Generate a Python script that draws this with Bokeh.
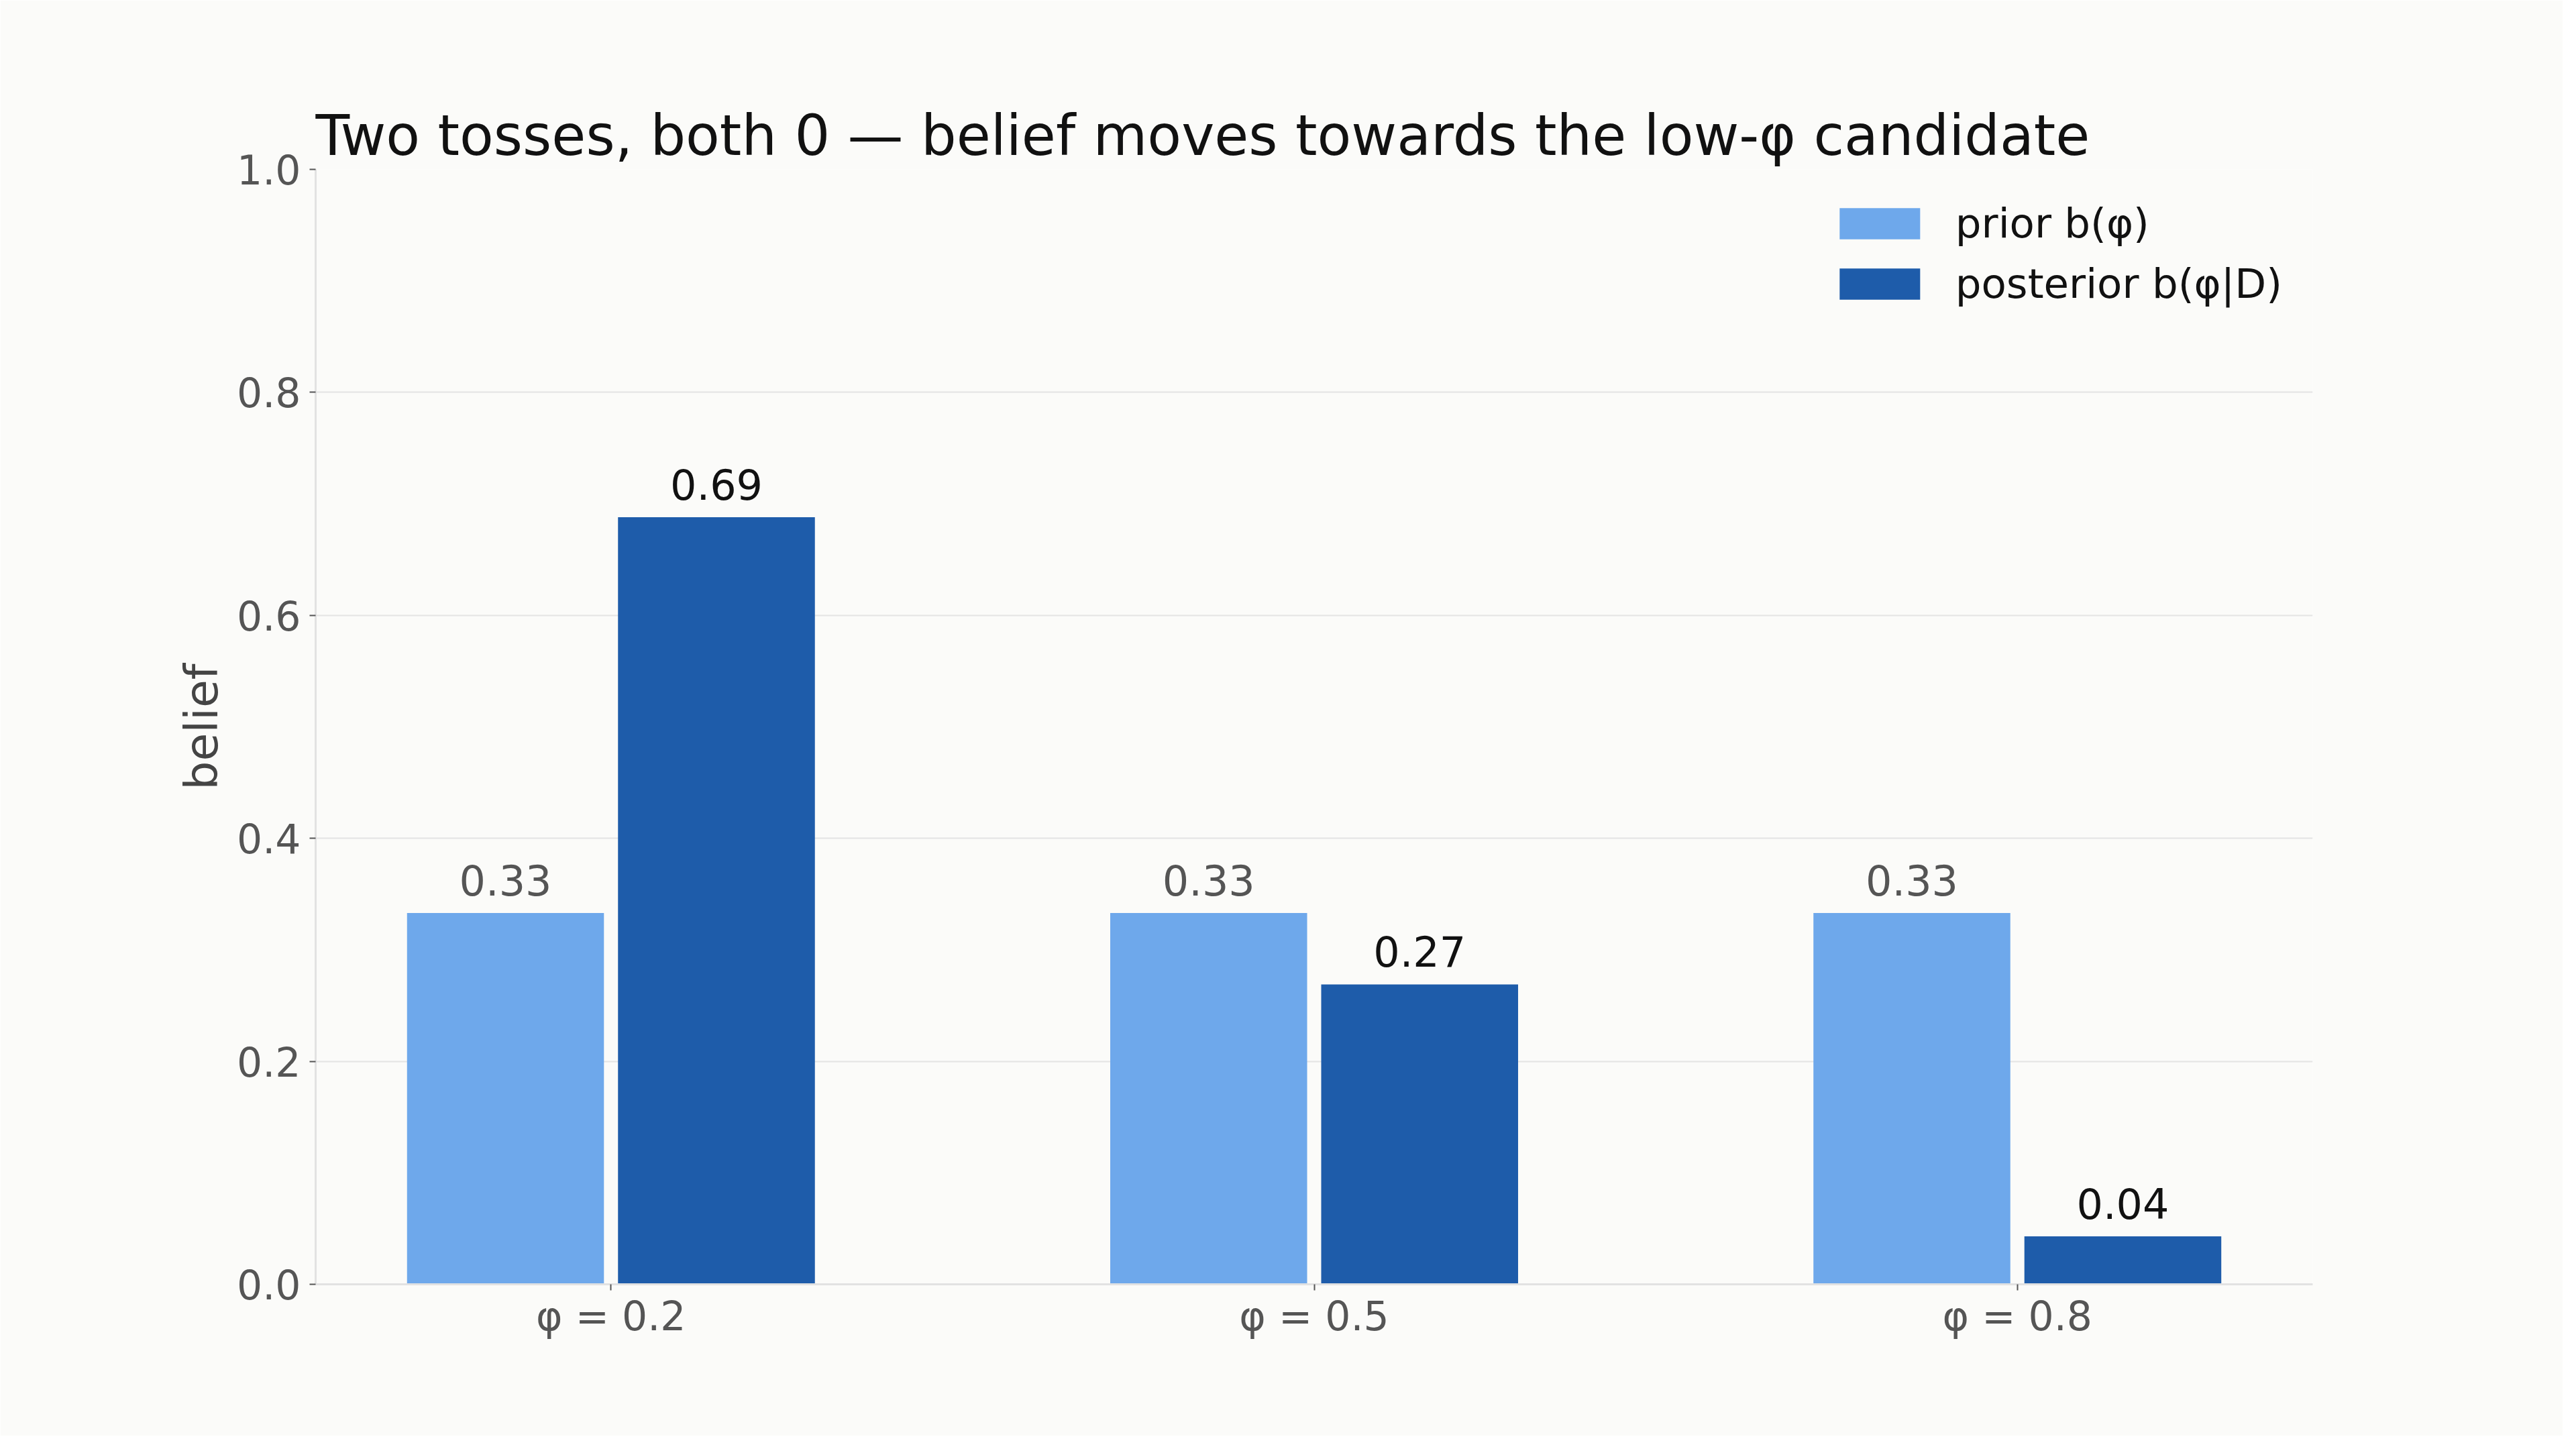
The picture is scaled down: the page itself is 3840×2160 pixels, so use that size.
from bokeh.plotting import figure
from bokeh.models import ColumnDataSource, Range1d, FixedTicker, Legend, LegendItem, NumeralTickFormatter
from bokeh.embed import file_html
from bokeh.resources import INLINE

# data
candidates = ["φ = 0.2", "φ = 0.5", "φ = 0.8"]
prior = [0.333, 0.333, 0.333]
posterior = [0.688, 0.269, 0.043]
prior_labels = ["0.33", "0.33", "0.33"]
post_labels = ["0.69", "0.27", "0.04"]

FONT = "DejaVu Sans"
BG = "#fbfbf9"
PRIOR_C = "#6ea8eb"
POST_C = "#1e5caa"

idx = list(range(len(candidates)))
src_prior = ColumnDataSource(dict(x=[i - 0.15 for i in idx], top=prior, lab=prior_labels))
src_post = ColumnDataSource(dict(x=[i + 0.15 for i in idx], top=posterior, lab=post_labels))

p = figure(width=3820, height=2140, output_backend="svg", toolbar_location=None,
           x_range=Range1d(-0.42, 2.42), y_range=Range1d(0, 1.0),
           min_border_left=470, min_border_right=373, min_border_top=252, min_border_bottom=226)
p.background_fill_color = BG
p.border_fill_color = BG
p.outline_line_color = None

p.title.text = "Two tosses, both 0 — belief moves towards the low-φ candidate"
p.title.text_font = FONT
p.title.text_font_size = "83px"
p.title.text_font_style = "normal"
p.title.text_color = "#111111"
p.title.align = "left"
p.title.standoff = 4

r1 = p.vbar(x="x", top="top", width=0.28, source=src_prior, fill_color=PRIOR_C, line_color=None)
r2 = p.vbar(x="x", top="top", width=0.28, source=src_post, fill_color=POST_C, line_color=None)

p.text(x="x", y="top", text="lab", source=src_prior, text_align="center", text_baseline="bottom",
       y_offset=-26, text_font_size="62px", text_color="#555555", text_font={"value": FONT})
p.text(x="x", y="top", text="lab", source=src_post, text_align="center", text_baseline="bottom",
       y_offset=-26, text_font_size="62px", text_color="#111111", text_font={"value": FONT})

# axes
p.xaxis.ticker = FixedTicker(ticks=idx)
p.xaxis.major_label_overrides = {i: c for i, c in zip(idx, candidates)}
p.yaxis.ticker = FixedTicker(ticks=[0, 0.2, 0.4, 0.6, 0.8, 1.0])
p.yaxis.formatter = NumeralTickFormatter(format="0.0")
p.yaxis.axis_label = "belief"
for ax in (p.xaxis[0], p.yaxis[0]):
    ax.axis_line_color = "#e2e2e2"
    ax.axis_line_width = 3
    ax.major_tick_line_color = "#555555"
    ax.major_tick_line_width = 2
    ax.major_tick_in = 0
    ax.major_tick_out = 9
    ax.minor_tick_line_color = None
    ax.major_label_text_font = FONT
    ax.major_label_text_font_size = "60px"
    ax.major_label_text_color = "#555555"
    ax.axis_label_text_font = FONT
    ax.axis_label_text_font_size = "68px"
    ax.axis_label_text_font_style = "normal"
    ax.axis_label_text_color = "#444444"
p.xaxis.major_label_standoff = 3
p.yaxis.major_label_standoff = 13
p.yaxis.axis_label_standoff = 10

p.xgrid.grid_line_color = None
p.ygrid.grid_line_color = "#e4e4e4"
p.ygrid.grid_line_width = 2

legend = Legend(items=[LegendItem(label="prior b(φ)", renderers=[r1]),
                       LegendItem(label="posterior b(φ|D)", renderers=[r2])],
                location="top_right")
legend.label_text_font = FONT
legend.label_text_font_size = "61px"
legend.label_text_color = "#111111"
legend.glyph_width = 150
legend.glyph_height = 58
legend.label_standoff = 38
legend.spacing = 19
legend.padding = 30
legend.margin = 45
legend.border_line_color = None
legend.background_fill_alpha = 0
p.add_layout(legend)

open("out.html", "w").write(file_html(p, INLINE))
